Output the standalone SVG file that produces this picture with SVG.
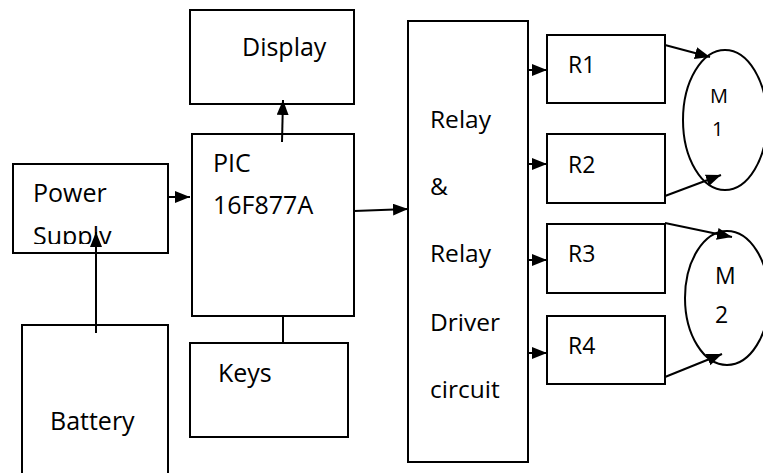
<svg xmlns="http://www.w3.org/2000/svg" width="763" height="473" viewBox="0 0 763 473">
<style>
.box{fill:#fff;stroke:#000;stroke-width:2}
.ln{fill:none;stroke:#000;stroke-width:2}
.t{font-family:"Open Sans","Liberation Sans",sans-serif;font-size:25px;fill:#000}
.s{font-size:23px}
.r{font-size:24.5px}
</style>
<defs>
<marker id="ah" markerUnits="userSpaceOnUse" markerWidth="16" markerHeight="14" refX="15" refY="6" orient="auto">
<path d="M0,0 L15,6 L0,12 z" fill="#000"/>
</marker>
<clipPath id="psclip"><rect x="13" y="164" width="155" height="80"/></clipPath>
</defs>
<rect width="763" height="473" fill="#fff"/>
<g id="power-supply">
<rect class="box" x="13" y="164" width="155" height="89"/>
<text class="t" x="33" y="202">Power</text>
<text class="t" x="33" y="245" clip-path="url(#psclip)">Supply</text>
</g>
<g id="battery">
<rect class="box" x="22" y="325" width="146" height="160"/>
<text class="t" x="50" y="430">Battery</text>
</g>
<g id="display">
<rect class="box" x="190" y="10" width="164" height="94"/>
<text class="t" x="242" y="56">Display</text>
</g>
<g id="pic">
<rect class="box" x="192" y="134" width="162" height="182"/>
<text class="t" x="213" y="172">PIC</text>
<text class="t" x="213" y="214">16F877A</text>
</g>
<g id="keys">
<rect class="box" x="190" y="343" width="158" height="94"/>
<text class="t" x="218" y="382">Keys</text>
</g>
<g id="relay-driver">
<rect class="box" x="408" y="21" width="120" height="441"/>
<text class="t r" x="430" y="128">Relay</text>
<text class="t r" x="430" y="195">&amp;</text>
<text class="t r" x="430" y="262">Relay</text>
<text class="t r" x="430" y="331">Driver</text>
<text class="t r" x="430" y="398">circuit</text>
</g>
<g id="r1">
<rect class="box" x="547" y="35" width="118" height="68"/>
<text class="t s" x="568" y="73">R1</text>
</g>
<g id="r2">
<rect class="box" x="547" y="134" width="118" height="69"/>
<text class="t s" x="568" y="173">R2</text>
</g>
<g id="r3">
<rect class="box" x="547" y="224" width="118" height="69"/>
<text class="t s" x="568" y="262">R3</text>
</g>
<g id="r4">
<rect class="box" x="547" y="316" width="118" height="68"/>
<text class="t s" x="568" y="354">R4</text>
</g>
<g id="m1">
<ellipse class="ln" cx="725" cy="120" rx="42" ry="70"/>
<text class="t" x="710" y="103" style="font-size:20px">M</text>
<text class="t" x="712" y="136" style="font-size:20px">1</text>
</g>
<g id="m2">
<ellipse class="ln" cx="727" cy="298" rx="42" ry="67"/>
<text class="t" x="715" y="284" style="font-size:23px">M</text>
<text class="t" x="715" y="323" style="font-size:23px">2</text>
</g>
<g id="connectors">
<line class="ln" x1="168" y1="197" x2="190" y2="197" marker-end="url(#ah)"/>
<line class="ln" x1="96" y1="333" x2="96" y2="232" marker-end="url(#ah)"/>
<line class="ln" x1="282" y1="142" x2="283" y2="100" marker-end="url(#ah)"/>
<line class="ln" x1="283" y1="316" x2="283" y2="343"/>
<line class="ln" x1="354" y1="211" x2="408" y2="209" marker-end="url(#ah)"/>
<line class="ln" x1="528" y1="70" x2="547" y2="70" marker-end="url(#ah)"/>
<line class="ln" x1="528" y1="164" x2="547" y2="164" marker-end="url(#ah)"/>
<line class="ln" x1="528" y1="260" x2="547" y2="260" marker-end="url(#ah)"/>
<line class="ln" x1="528" y1="353" x2="547" y2="353" marker-end="url(#ah)"/>
<line class="ln" x1="665" y1="45" x2="710" y2="57" marker-end="url(#ah)"/>
<line class="ln" x1="665" y1="196" x2="721" y2="175" marker-end="url(#ah)"/>
<line class="ln" x1="665" y1="223" x2="732" y2="237" marker-end="url(#ah)"/>
<line class="ln" x1="665" y1="377" x2="722" y2="354" marker-end="url(#ah)"/>
</g>
</svg>
